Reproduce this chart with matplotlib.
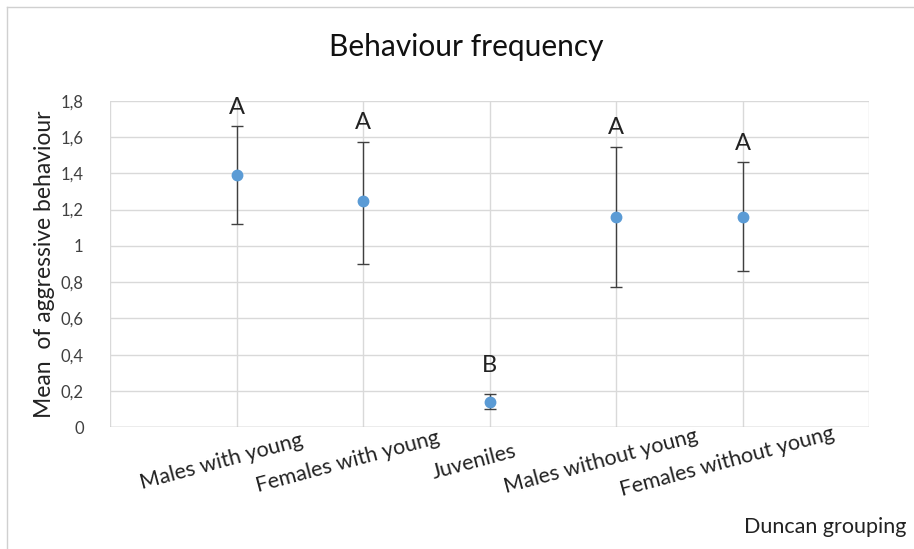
import numpy as np
import matplotlib.pyplot as plt
from matplotlib.lines import Line2D

# Mean aggressive behaviour per group, with error bar ends
groups = ['Males with young', 'Females with young', 'Juveniles',
          'Males without young', 'Females without young']
means = [1.39, 1.245, 0.14, 1.16, 1.16]
upper = [1.66, 1.575, 0.185, 1.545, 1.46]
lower = [1.12, 0.90, 0.10, 0.775, 0.86]
duncan = ['A', 'A', 'B', 'A', 'A']
letter_y = [1.76, 1.68, 0.34, 1.65, 1.565]

yticks = [0, 0.2, 0.4, 0.6, 0.8, 1, 1.2, 1.4, 1.6, 1.8]
ytick_labels = ['0', '0,2', '0,4', '0,6', '0,8', '1', '1,2', '1,4', '1,6', '1,8']

plt.rcParams['font.family'] = ['Lato', 'DejaVu Sans']

fig = plt.figure(figsize=(9.14, 5.49), dpi=100)
ax = fig.add_axes([0.1204, 0.2217, 0.8304, 0.5949])

x = np.arange(1, len(groups) + 1)
m = np.array(means)
err = [m - np.array(lower), np.array(upper) - m]

ax.errorbar(x, m, yerr=err, fmt='none', ecolor='#404040', elinewidth=1,
            capsize=4.3, capthick=1, zorder=3)
ax.plot(x, m, 'o', color='#5B9BD5', markersize=7.5, zorder=4)

for xi, lab, ly in zip(x, duncan, letter_y):
    ax.text(xi, ly, lab, ha='center', va='center', fontsize=17, color='#222222')

ax.set_xlim(0, 6)
ax.set_ylim(0, 1.8)
ax.set_yticks(yticks)
ax.set_yticklabels(ytick_labels)
ax.set_xticks(range(0, 7))
ax.set_xticklabels([])
ax.tick_params(axis='both', length=0, labelsize=12, colors='#404040')
ax.tick_params(axis='y', pad=19)
ax.grid(True, color='#d9d9d9', linewidth=1)
ax.set_axisbelow(True)
for s in ax.spines.values():
    s.set_visible(False)
ax.axhline(0, color='#bfbfbf', linewidth=1, zorder=2)

for xi, lab in zip(x, groups):
    ax.text(xi - 0.12, -0.19, lab, rotation=15, ha='center', va='center',
            rotation_mode='anchor', fontsize=15.5, color='#222222',
            transform=ax.transData, clip_on=False)

ax.set_ylabel('Mean  of aggressive behaviour', fontsize=16.5, color='#222222',
              labelpad=4)
fig.text(0.51, 0.914, 'Behaviour frequency', ha='center', va='center',
         fontsize=21.5, color='#111111')
fig.text(0.992, 0.04, 'Duncan grouping', ha='right', va='center',
         fontsize=15.5, color='#222222')

# chart area border (top and left visible)
fig.add_artist(Line2D([7 / 914, 1.0], [1 - 7 / 549, 1 - 7 / 549],
                      transform=fig.transFigure, color='#d0d0d0', linewidth=1))
fig.add_artist(Line2D([7 / 914, 7 / 914], [0, 1 - 7 / 549],
                      transform=fig.transFigure, color='#d0d0d0', linewidth=1))

fig.savefig('out.png', dpi=100)
